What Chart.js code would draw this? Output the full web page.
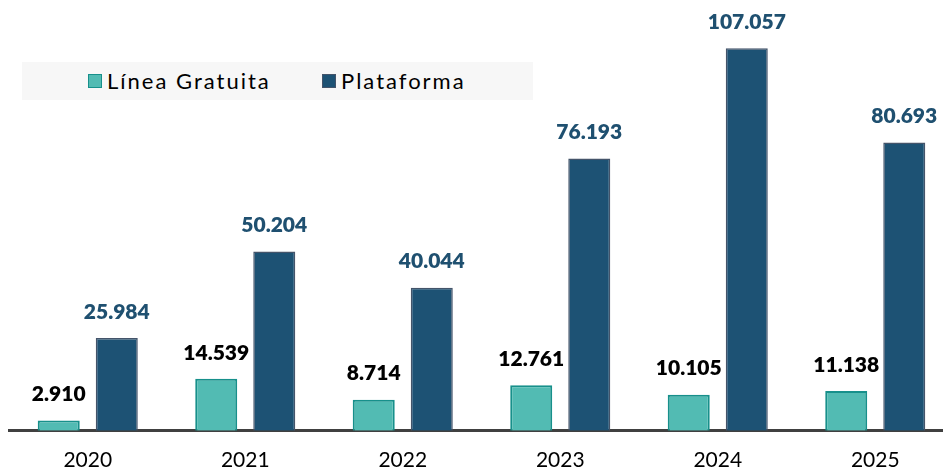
<!DOCTYPE html>
<html lang="es">
<head>
<meta charset="utf-8">
<script src="https://cdn.jsdelivr.net/npm/chart.js@4"></script>
<style>
  html, body { margin: 0; padding: 0; background: #fff; overflow: hidden; }
  #wrap { position: relative; width: 943px; height: 472px; overflow: hidden; }
  #legend {
    position: absolute; left: 22px; top: 62px; width: 511px; height: 38px;
    background: #f7f7f7; font-family: Lato, "Noto Sans", sans-serif; font-size: 22px;
    letter-spacing: 2px; color: #000;
  }
  #legend span.box { display: inline-block; width: 12px; height: 12px; margin-right: 5px; }
  #legend .item { display: flex; align-items: center; position: absolute; top: 5px; }
</style>
</head>
<body>
<div id="wrap">
  <canvas id="chart" width="960" height="490"></canvas>
  <div id="legend"></div>
</div>
<script>
const years = ['2020', '2021', '2022', '2023', '2024', '2025'];
const lineaGratuita = [2910, 14539, 8714, 12761, 10105, 11138];
const plataforma = [25984, 50204, 40044, 76193, 107057, 80693];

const tealFill = '#52bbb3', tealLine = '#17908b';
const navyFill = '#1d5274', navyLine = '#44546a';

// thousands with a dot, e.g. 107.057
const fmt = v => v.toLocaleString('de-DE');

const valueLabels = {
  id: 'valueLabels',
  afterDatasetsDraw(chart) {
    const ctx = chart.ctx;
    ctx.save();
    ctx.font = '800 21px Lato, "Noto Sans", sans-serif';
    ctx.textAlign = 'center';
    ctx.textBaseline = 'middle';
    chart.data.datasets.forEach((ds, i) => {
      ctx.fillStyle = i === 0 ? '#000000' : '#1f5070';
      chart.getDatasetMeta(i).data.forEach((bar, j) => {
        ctx.fillText(fmt(ds.data[j]), bar.x, bar.y - 26);
      });
    });
    ctx.restore();
  }
};

new Chart(document.getElementById('chart'), {
  type: 'bar',
  data: {
    labels: years,
    datasets: [{
      label: 'Línea Gratuita',
      data: lineaGratuita,
      backgroundColor: tealFill,
      borderColor: tealLine,
      borderWidth: 2,
      categoryPercentage: 0.737,
      barPercentage: 0.724
    }, {
      label: 'Plataforma',
      data: plataforma,
      backgroundColor: navyFill,
      borderColor: navyLine,
      borderWidth: 1.5,
      categoryPercentage: 0.737,
      barPercentage: 0.724
    }]
  },
  options: {
    responsive: false,
    animation: false,
    layout: { padding: { left: 9, right: 6, top: 2, bottom: 0 } },
    plugins: { legend: { display: false }, tooltip: { enabled: false } },
    scales: {
      x: {
        grid: { display: false, drawTicks: false },
        border: { color: '#404040', width: 3 },
        ticks: { color: '#000', padding: 17, font: { family: 'Lato', size: 21 } }
      },
      y: { display: false, min: 0, max: 120000 }
    }
  },
  plugins: [valueLabels]
});

// legend strip
const legend = document.getElementById('legend');
[['Línea Gratuita', tealFill, tealLine, 66], ['Plataforma', navyFill, navyLine, 300]].forEach(([t, f, b, x]) => {
  const it = document.createElement('div');
  it.className = 'item';
  it.style.left = x + 'px';
  it.innerHTML = '<span class="box" style="background:' + f + ';border:1.5px solid ' + b + '"></span>' + t;
  legend.appendChild(it);
});
</script>
</body>
</html>
